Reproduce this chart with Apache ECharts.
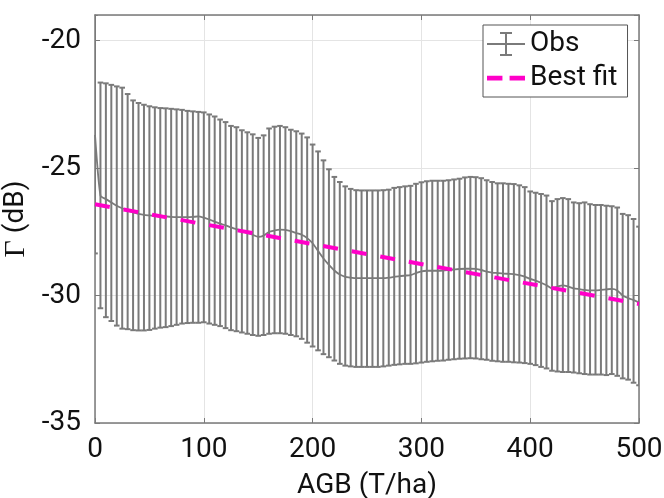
<!DOCTYPE html>
<html>
<head>
<meta charset="utf-8">
<script src="https://cdn.jsdelivr.net/npm/echarts@6/dist/echarts.min.js"></script>
<style>
  html, body { margin: 0; padding: 0; background: #fff; }
  #chart-container { width: 664px; height: 498px; }
</style>
</head>
<body>
<div id="chart-container"></div>
<script>
// AGB bins (T/ha), every 5 from 0 to 500
var agb = [];
for (var k = 0; k <= 100; k++) agb.push(k * 5);

// mean backscatter of each bin (dB)
var obsMean = [
  -23.7, -26.08, -26.22, -26.35, -26.48, -26.58, -26.66, -26.74, -26.8, -26.84,
  -26.86, -26.88, -26.9, -26.9, -26.92, -26.93, -26.93, -26.93, -26.92, -26.9,
  -26.95, -27.02, -27.1, -27.18, -27.25, -27.33, -27.4, -27.48, -27.55, -27.62,
  -27.7, -27.65, -27.5, -27.45, -27.42, -27.43, -27.48, -27.55, -27.62, -27.75,
  -27.95, -28.25, -28.55, -28.8, -29.02, -29.18, -29.27, -29.3, -29.32, -29.32,
  -29.32, -29.32, -29.32, -29.32, -29.3, -29.27, -29.24, -29.22, -29.2, -29.12,
  -29.05, -29.03, -29.03, -29.03, -29.02, -29.0, -28.98, -28.96, -28.95, -28.95,
  -28.96, -29.0, -29.06, -29.1, -29.12, -29.14, -29.15, -29.16, -29.2, -29.26,
  -29.35, -29.42, -29.5, -29.6, -29.72, -29.65, -29.6, -29.65, -29.72, -29.75,
  -29.78, -29.8, -29.8, -29.78, -29.76, -29.74, -29.8, -30.0, -30.1, -30.18,
  -30.27
];

// upper end of each error bar (dB)
var obsUpper = [
  -19.0, -21.65, -21.68, -21.74, -21.8, -21.85, -22.1, -22.35, -22.45, -22.52,
  -22.58, -22.62, -22.65, -22.66, -22.68, -22.7, -22.72, -22.76, -22.78, -22.8,
  -22.82, -22.9, -22.98, -23.1, -23.2, -23.35, -23.4, -23.52, -23.6, -23.68,
  -23.82, -23.72, -23.45, -23.38, -23.35, -23.4, -23.5, -23.56, -23.65, -23.8,
  -24.08, -24.35, -24.7, -25.05, -25.35, -25.55, -25.72, -25.82, -25.87, -25.88,
  -25.88, -25.88, -25.88, -25.87, -25.85, -25.78, -25.75, -25.72, -25.7, -25.62,
  -25.56, -25.52, -25.5, -25.5, -25.5, -25.48, -25.45, -25.42, -25.37, -25.35,
  -25.36, -25.4, -25.48, -25.55, -25.6, -25.6, -25.62, -25.63, -25.68, -25.75,
  -25.92, -25.97, -26.02, -26.08, -26.3, -26.22, -26.18, -26.22, -26.35, -26.38,
  -26.35, -26.42, -26.45, -26.45, -26.48, -26.5, -26.55, -26.8, -26.85, -27.0,
  -27.3
];

// lower end of each error bar (dB)
var obsLower = [
  -28.35, -30.5, -30.85, -31.0, -31.18, -31.3, -31.32, -31.36, -31.37, -31.37,
  -31.35, -31.3, -31.26, -31.24, -31.2, -31.15, -31.1, -31.08, -31.07, -31.07,
  -31.05, -31.1, -31.15, -31.2, -31.28, -31.36, -31.4, -31.45, -31.5, -31.55,
  -31.58, -31.55, -31.5, -31.48, -31.48, -31.5, -31.55, -31.6, -31.7, -31.85,
  -32.0, -32.15, -32.3, -32.42, -32.55, -32.68, -32.75, -32.78, -32.8, -32.8,
  -32.8, -32.8, -32.8, -32.78, -32.75, -32.72, -32.7, -32.68, -32.68, -32.66,
  -32.63, -32.6, -32.58, -32.56, -32.55, -32.52, -32.5, -32.48, -32.47, -32.46,
  -32.47, -32.5, -32.52, -32.56, -32.58, -32.6, -32.6, -32.62, -32.63, -32.65,
  -32.68, -32.73, -32.8, -32.86, -32.95, -32.98, -33.0, -33.0, -33.02, -33.05,
  -33.08, -33.1, -33.1, -33.1, -33.12, -33.08, -33.15, -33.25, -33.3, -33.42,
  -33.52
];

// best fit line end points
var fitX = [0, 500];
var fitY = [-26.42, -30.33];

var GRAY = '#7a7a7a';
var PINK = '#ff00c8';
var FONT = 'Roboto';
var FS = 28;

var dom = document.getElementById('chart-container');
var myChart = echarts.init(dom, null, { renderer: 'canvas' });

var errData = agb.map(function (x, i) { return [x, obsLower[i], obsUpper[i]]; });
var meanData = agb.map(function (x, i) { return [x, obsMean[i]]; });
var fitData = fitX.map(function (x, i) { return [x, fitY[i]]; });

function renderErr(params, api) {
  var x = api.value(0);
  var lo = api.coord([x, api.value(1)]);
  var hi = api.coord([x, api.value(2)]);
  var hw = 2.8;
  var st = { stroke: GRAY, lineWidth: 2 };
  return {
    type: 'group',
    children: [
      { type: 'line', shape: { x1: lo[0], y1: lo[1], x2: hi[0], y2: hi[1] }, style: st },
      { type: 'line', shape: { x1: lo[0] - hw, y1: lo[1], x2: lo[0] + hw, y2: lo[1] }, style: st },
      { type: 'line', shape: { x1: hi[0] - hw, y1: hi[1], x2: hi[0] + hw, y2: hi[1] }, style: st }
    ]
  };
}

// legend glyphs: error bar, and two dashes
var errIcon = 'path://M0,11L38,11L38,13L0,13Z M18,0L20,0L20,24L18,24Z M13,0L25,0L25,2L13,2Z M13,22L25,22L25,24L13,24Z';
var dashIcon = 'path://M0,0L13,0L13,4L0,4Z M19,0L32,0L32,4L19,4Z';

var option = {
  animation: false,
  backgroundColor: '#fff',
  textStyle: { fontFamily: FONT },
  grid: { left: 95, right: 25, top: 15, bottom: 75, containLabel: false, outerBoundsMode: 'none' },
  legend: {
    orient: 'vertical',
    left: 483,
    top: 25,
    padding: [5, 10, 5, 4],
    itemGap: 6,
    itemWidth: 38,
    itemHeight: 30,
    symbolKeepAspect: true,
    backgroundColor: '#fff',
    borderColor: '#555',
    borderWidth: 1,
    borderRadius: 0,
    textStyle: { fontSize: FS, color: '#111', fontFamily: FONT, padding: [0, 0, 0, 0] },
    data: [
      { name: 'Obs', icon: errIcon },
      { name: 'Best fit', icon: dashIcon }
    ]
  },
  xAxis: [{
    type: 'value',
    min: 0,
    max: 500,
    interval: 100,
    name: 'AGB (T/ha)',
    nameLocation: 'middle',
    nameGap: 49,
    nameTextStyle: { fontSize: FS, color: '#111', fontFamily: FONT },
    axisLine: { onZero: false, lineStyle: { color: GRAY, width: 1.5 } },
    axisTick: { inside: true, length: 5, lineStyle: { color: GRAY } },
    axisLabel: { fontSize: FS, color: '#111', margin: 13, fontFamily: FONT },
    splitLine: { show: true, lineStyle: { color: '#e4e4e4', width: 1 } }
  }, {
    type: 'value',
    position: 'top',
    min: 0,
    max: 500,
    interval: 100,
    axisLine: { onZero: false, lineStyle: { color: GRAY, width: 1.5 } },
    axisTick: { inside: true, length: 5, lineStyle: { color: GRAY } },
    axisLabel: { show: false },
    splitLine: { show: false }
  }],
  yAxis: [{
    type: 'value',
    min: -35,
    max: -19,
    interval: 5,
    name: '{g|Γ} (dB)',
    nameLocation: 'middle',
    nameGap: 62,
    nameTextStyle: {
      fontSize: FS, color: '#111', fontFamily: FONT,
      rich: { g: { fontSize: 30, fontFamily: 'Liberation Serif', color: '#111' } }
    },
    axisLine: { onZero: false, lineStyle: { color: GRAY, width: 1.5 } },
    axisTick: { inside: true, length: 5, lineStyle: { color: GRAY } },
    axisLabel: { fontSize: FS, color: '#111', margin: 14, showMaxLabel: false, fontFamily: FONT },
    splitLine: { show: true, lineStyle: { color: '#e4e4e4', width: 1 } }
  }, {
    type: 'value',
    position: 'right',
    min: -35,
    max: -19,
    interval: 5,
    axisLine: { onZero: false, lineStyle: { color: GRAY, width: 1.5 } },
    axisTick: { inside: true, length: 5, lineStyle: { color: GRAY } },
    axisLabel: { show: false },
    splitLine: { show: false }
  }],
  series: [
    {
      name: 'Obs',
      type: 'custom',
      renderItem: renderErr,
      data: errData,
      itemStyle: { color: GRAY },
      clip: true,
      z: 2
    },
    {
      name: 'Obs',
      type: 'line',
      data: meanData,
      symbol: 'none',
      smooth: 0.2,
      lineStyle: { color: GRAY, width: 1.8 },
      itemStyle: { color: GRAY },
      z: 3
    },
    {
      name: 'Best fit',
      type: 'line',
      data: fitData,
      symbol: 'none',
      lineStyle: { color: PINK, width: 4, type: [15, 14] },
      itemStyle: { color: PINK },
      z: 4
    }
  ]
};

myChart.setOption(option);
window.addEventListener('resize', myChart.resize);
</script>
</body>
</html>
